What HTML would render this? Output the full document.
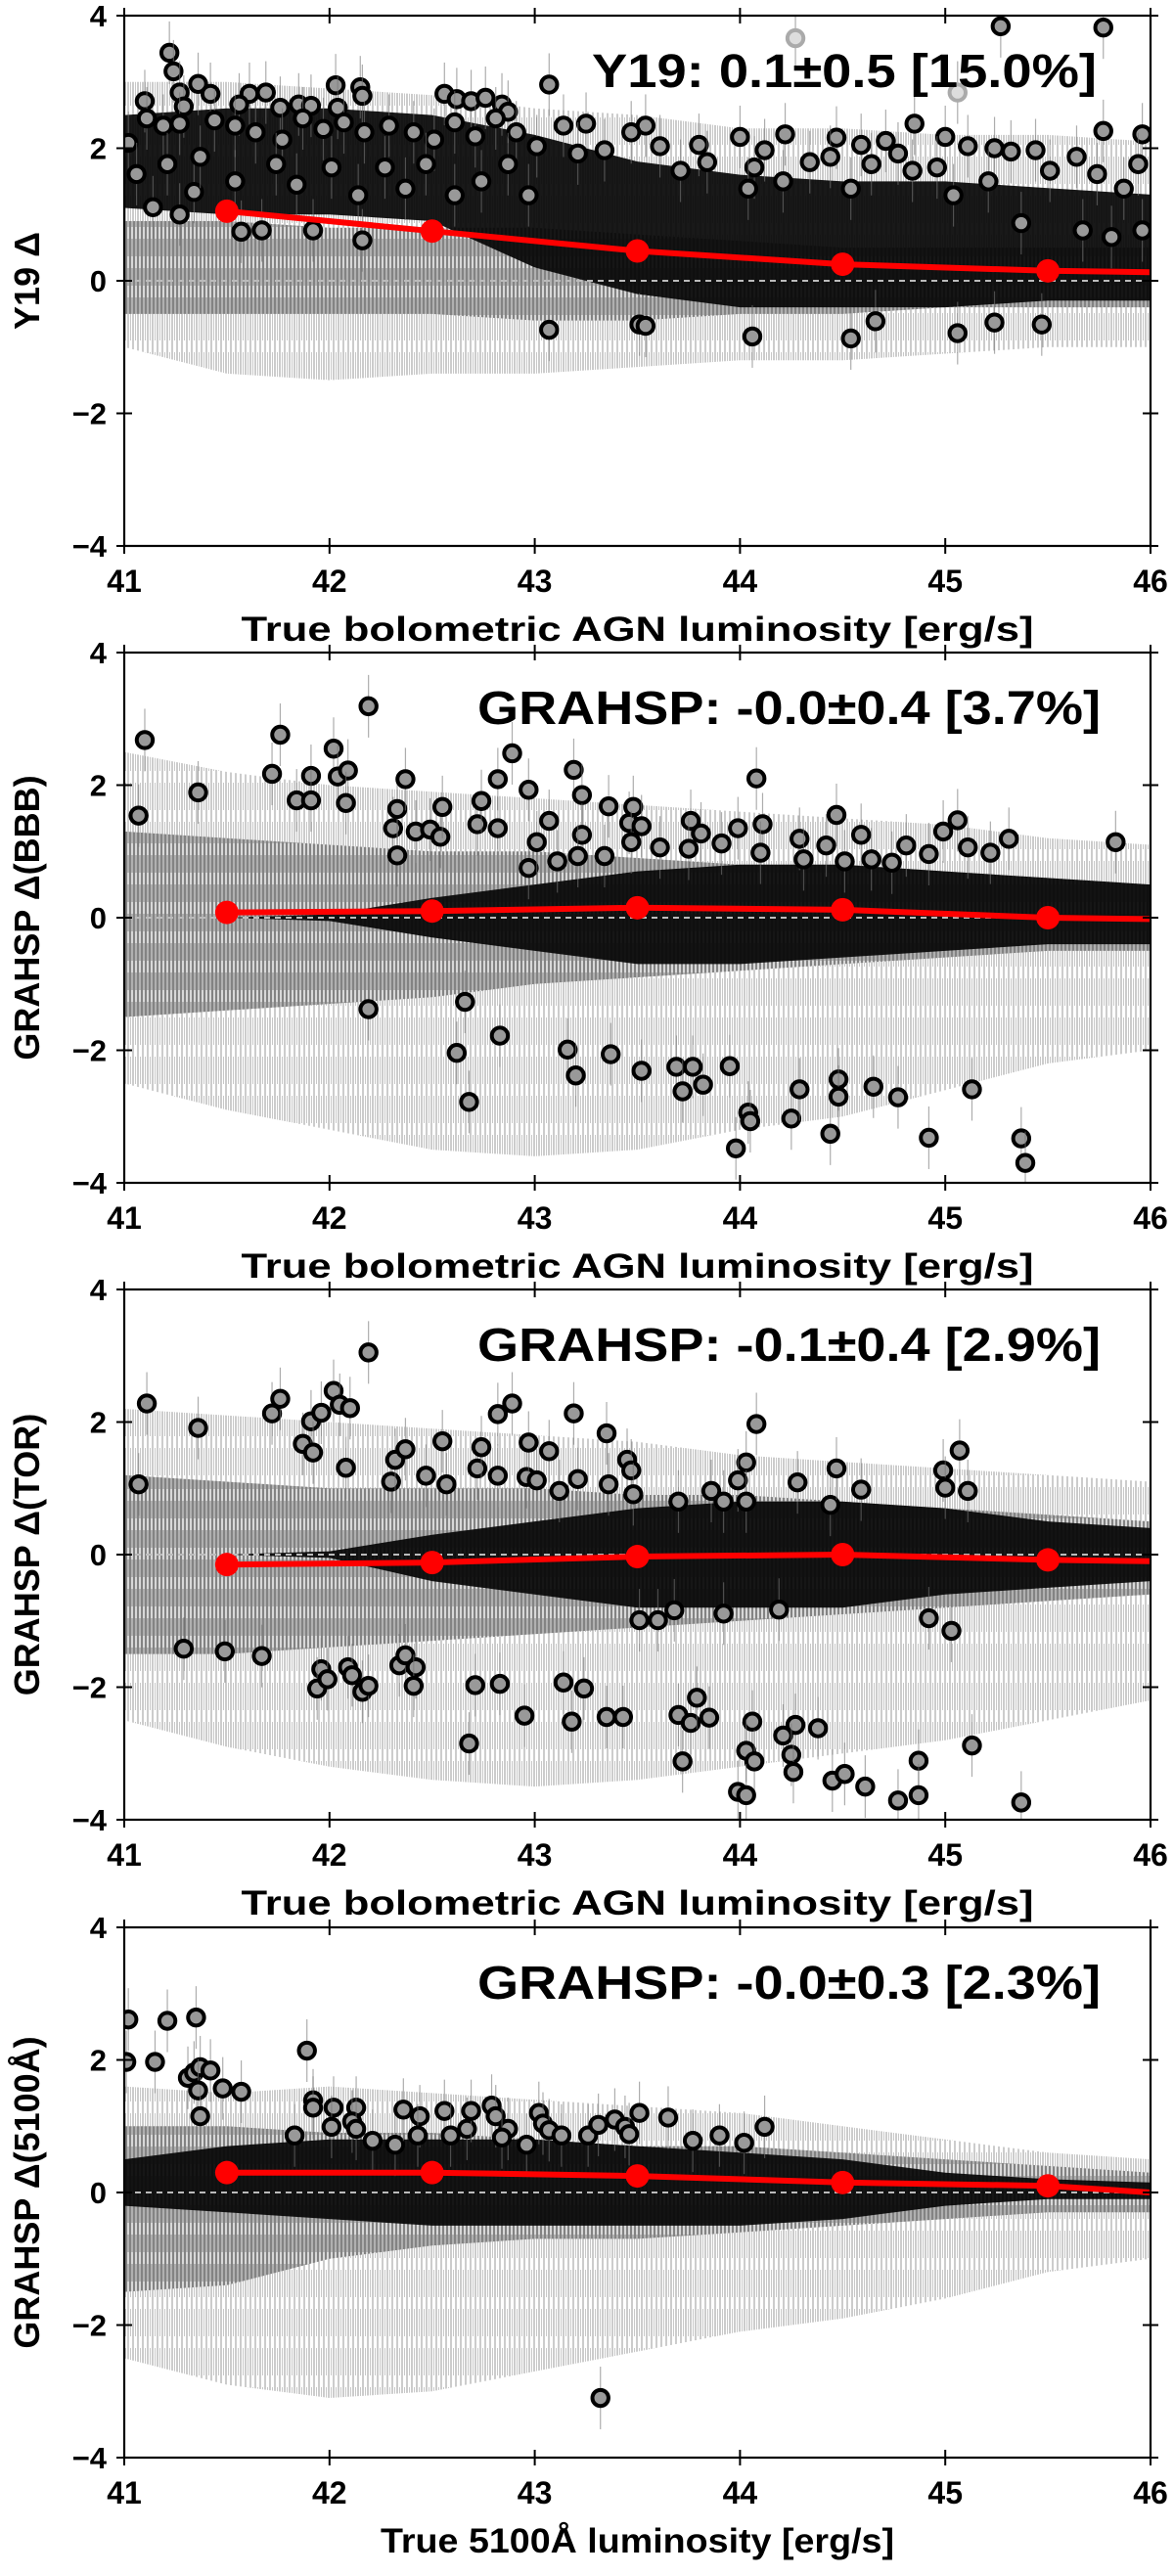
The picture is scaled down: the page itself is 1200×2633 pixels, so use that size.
<!DOCTYPE html>
<html><head><meta charset="utf-8"><style>
html,body{margin:0;padding:0;background:#fff}
svg text{font-family:"Liberation Sans",sans-serif;font-weight:bold;fill:#000}
</style></head><body>
<svg id="fig" xmlns="http://www.w3.org/2000/svg" width="1200" height="2628" viewBox="0 0 1200 2628">
<defs>
<pattern id="errPat" width="5" height="40" patternUnits="userSpaceOnUse"><line x1="1" y1="0" x2="1" y2="40" stroke="#9a9a9a" stroke-width="1"/><line x1="3.5" y1="0" x2="3.5" y2="28" stroke="#c8c8c8" stroke-width="1"/></pattern>
<pattern id="crossPat" width="4" height="30" patternUnits="userSpaceOnUse"><rect width="4" height="30" fill="#d8d8d8"/><line x1="1" y1="0" x2="1" y2="30" stroke="#555" stroke-width="1.3"/><line x1="3" y1="4" x2="3" y2="22" stroke="#888" stroke-width="1"/></pattern>
</defs>
</svg>
<script>
// ---- shared data ----
const xTicks = [41,42,43,44,45,46];
const yTicks = [4,2,0,-2,-4];
const yTickLabels = ["4","2","0","\u22122","\u22124"];
const bandX = [41,41.5,42,42.5,43,43.5,44,44.5,45,45.5,46];
const medX = [41.5,42.5,43.5,44.5,45.5,46];

// ---- panel 1 (Y19) ----
const p1Title = "Y19: 0.1\u00b10.5 [15.0%]";
const p1YLabel = "Y19 \u0394";
const p1XLabel = "True bolometric AGN luminosity [erg/s]";
const p1Med = [1.05,0.75,0.45,0.25,0.15,0.13];
const p1ErrLo = [-1.0,-1.4,-1.5,-1.4,-1.4,-1.3,-1.2,-1.2,-1.1,-1.0,-1.0];
const p1ErrHi = [3.0,3.0,2.9,2.8,2.6,2.5,2.3,2.3,2.2,2.2,2.1];
const p1CrossLo = [-0.5,-0.5,-0.5,-0.5,-0.6,-0.6,-0.5,-0.5,-0.4,-0.4,-0.4];
const p1CrossHi = [0.9,0.9,0.8,0.8,0.8,0.7,0.6,0.5,0.5,0.5,0.5];
const p1CoreLo = [1.1,1.0,1.0,0.9,0.2,-0.2,-0.4,-0.4,-0.4,-0.3,-0.3];
const p1CoreHi = [2.5,2.6,2.6,2.5,2.2,1.8,1.6,1.5,1.5,1.4,1.3];
const p1CircX = [41.22,41.24,41.36,41.1,41.27,41.42,41.29,41.61,41.69,41.56,42.03,42.15,42.16,41.85,41.76,41.91,42.04,42.56,42.62,42.69,42.76,42.84,42.87,43.07,41.02,41.11,41.19,41.27,41.44,41.54,41.64,41.77,41.87,41.97,42.07,42.17,42.29,42.41,42.51,42.61,42.71,42.81,42.91,43.01,41.06,41.14,41.21,41.27,41.34,41.37,41.54,41.57,41.67,41.74,41.84,41.92,42.01,42.14,42.16,42.27,42.37,42.47,42.61,42.74,42.87,42.97,43.14,43.25,43.54,43.47,43.21,43.34,43.61,43.71,43.8,43.84,44.0,44.22,44.12,44.07,44.47,44.59,44.71,44.85,45.0,44.77,44.34,44.44,44.64,44.84,44.96,45.11,45.24,45.32,45.44,45.64,45.77,45.96,45.94,45.51,45.74,45.87,45.81,45.96,45.67,45.37,45.21,45.04,44.54,44.21,44.04,45.27,45.77,43.07,43.51,43.54,44.06,44.54,44.66,45.06,45.24,45.47];
const p1CircY = [3.44,3.16,2.97,2.71,2.84,2.82,2.63,2.82,2.84,2.66,2.95,2.92,2.79,2.66,2.61,2.64,2.61,2.82,2.74,2.71,2.76,2.66,2.55,2.96,2.08,2.45,2.34,2.37,2.42,2.34,2.24,2.13,2.45,2.29,2.39,2.24,2.34,2.24,2.13,2.39,2.18,2.45,2.24,2.03,1.61,1.11,1.76,1.0,1.34,1.87,1.5,0.74,0.76,1.76,1.45,0.76,1.71,1.29,0.61,1.71,1.39,1.76,1.29,1.5,1.76,1.29,2.34,2.37,2.34,2.24,1.92,1.97,2.03,1.66,2.05,1.79,2.17,2.21,1.97,1.71,2.16,2.05,2.11,2.37,2.17,1.92,1.79,1.87,1.76,1.66,1.71,2.03,2.0,1.95,1.97,1.87,2.26,2.21,1.76,1.66,1.61,1.39,0.66,0.76,0.76,0.87,1.5,1.29,1.39,1.5,1.39,3.84,3.82,-0.74,-0.66,-0.68,-0.84,-0.87,-0.61,-0.79,-0.63,-0.66];
const p1FaintX = [44.27,45.06];
const p1FaintY = [3.66,2.84];

// ---- panel 2 (BBB) ----
const p2Title = "GRAHSP: -0.0\u00b10.4 [3.7%]";
const p2YLabel = "GRAHSP \u0394(BBB)";
const p2Med = [0.08,0.1,0.15,0.12,0.0,-0.02];
const p2ErrLo = [-2.5,-2.9,-3.2,-3.5,-3.6,-3.5,-3.2,-3.0,-2.6,-2.2,-2.0];
const p2ErrHi = [2.5,2.2,2.0,1.9,1.8,1.7,1.6,1.5,1.4,1.2,1.1];
const p2CrossLo = [-1.5,-1.4,-1.3,-1.2,-1.0,-0.9,-0.8,-0.7,-0.6,-0.5,-0.5];
const p2CrossHi = [1.3,1.2,1.1,1.0,1.0,0.9,0.8,0.8,0.7,0.6,0.5];
const p2CoreLo = [0,0,-0.05,-0.3,-0.5,-0.7,-0.7,-0.6,-0.5,-0.4,-0.4];
const p2CoreHi = [0,0,0.05,0.3,0.5,0.7,0.8,0.8,0.7,0.6,0.5];
const p2CircX = [41.07,41.1,41.36,41.72,41.76,41.84,41.91,41.91,42.02,42.04,42.09,42.08,42.19,42.31,42.33,42.33,42.37,42.42,42.49,42.54,42.55,42.72,42.74,42.82,42.82,42.89,42.97,42.97,43.01,43.07,43.11,43.19,43.23,43.23,43.21,43.34,43.36,43.46,43.48,43.52,43.47,43.61,43.76,43.81,43.75,43.91,43.99,44.11,44.08,44.1,44.29,44.31,44.42,44.47,44.51,44.59,44.64,44.74,44.81,44.92,44.99,45.06,45.11,45.22,45.31,45.83,42.19,42.66,42.83,42.62,42.68,43.16,43.2,43.37,43.52,43.69,43.77,43.72,43.82,43.95,44.04,44.05,43.98,44.25,44.29,44.44,44.48,44.48,44.65,44.77,44.92,45.13,45.37,45.39];
const p2CircY = [1.54,2.68,1.89,2.17,2.76,1.77,2.14,1.77,2.55,2.13,2.22,1.73,3.19,1.35,1.64,0.94,2.09,1.3,1.33,1.22,1.67,1.41,1.76,1.35,2.09,2.48,1.93,0.75,1.14,1.46,0.85,2.23,1.85,1.25,0.93,0.93,1.68,1.43,1.67,1.38,1.14,1.06,1.46,1.27,1.04,1.12,1.35,1.41,2.1,0.98,1.19,0.88,1.09,1.55,0.85,1.25,0.88,0.83,1.09,0.96,1.3,1.47,1.06,0.98,1.19,1.14,-1.38,-1.27,-1.78,-2.04,-2.78,-1.99,-2.38,-2.06,-2.31,-2.25,-2.25,-2.62,-2.52,-2.24,-2.94,-3.07,-3.48,-3.03,-2.59,-3.26,-2.44,-2.7,-2.55,-2.71,-3.32,-2.59,-3.33,-3.7];

// ---- panel 3 (TOR) ----
const p3Title = "GRAHSP: -0.1\u00b10.4 [2.9%]";
const p3YLabel = "GRAHSP \u0394(TOR)";
const p3Med = [-0.15,-0.12,-0.03,0.0,-0.08,-0.1];
const p3ErrLo = [-2.5,-2.9,-3.2,-3.4,-3.5,-3.4,-3.2,-3.0,-2.8,-2.5,-2.2];
const p3ErrHi = [2.2,2.1,2.0,1.9,1.8,1.7,1.5,1.4,1.3,1.2,1.1];
const p3CrossLo = [-1.5,-1.5,-1.4,-1.3,-1.2,-1.1,-1.0,-0.9,-0.8,-0.7,-0.6];
const p3CrossHi = [1.2,1.1,1.0,1.0,1.0,0.9,0.9,0.8,0.7,0.6,0.5];
const p3CoreLo = [0,0,-0.05,-0.4,-0.6,-0.8,-0.8,-0.8,-0.6,-0.5,-0.4];
const p3CoreHi = [0,0,0.05,0.3,0.5,0.7,0.8,0.8,0.7,0.5,0.4];
const p3CircX = [41.07,41.11,41.36,41.72,41.76,41.87,41.91,41.92,41.96,42.02,42.05,42.1,42.08,42.19,42.3,42.32,42.37,42.47,42.55,42.57,42.72,42.74,42.82,42.82,42.89,42.96,43.01,42.97,43.07,43.12,43.19,43.21,43.35,43.36,43.45,43.47,43.48,43.7,43.86,43.92,44.03,43.99,44.03,44.08,44.28,44.44,44.47,44.59,44.99,45.0,45.07,45.11,43.51,43.6,43.68,43.92,44.19,44.92,45.03,41.29,41.49,41.67,41.96,41.94,41.99,42.09,42.11,42.16,42.19,42.34,42.37,42.42,42.41,42.71,42.83,42.95,42.68,43.14,43.24,43.18,43.35,43.43,43.7,43.76,43.85,43.79,43.72,44.06,44.21,44.27,44.38,44.03,44.07,44.25,44.26,43.99,44.03,44.45,44.51,44.61,44.77,44.87,44.87,45.13,45.37];
const p3CircY = [1.06,2.28,1.91,2.13,2.35,1.67,2.01,1.54,2.14,2.47,2.26,2.21,1.31,3.05,1.1,1.43,1.59,1.19,1.71,1.06,1.3,1.62,1.19,2.12,2.28,1.17,1.12,1.69,1.56,0.96,2.13,1.14,1.83,1.06,1.43,1.27,0.91,0.8,0.96,0.8,1.39,1.12,0.8,1.97,1.09,0.75,1.3,0.98,1.27,1.01,1.57,0.96,-0.99,-0.99,-0.84,-0.89,-0.83,-0.96,-1.15,-1.42,-1.46,-1.53,-1.73,-2.02,-1.88,-1.7,-1.82,-2.07,-1.98,-1.67,-1.52,-1.7,-1.98,-1.97,-1.95,-2.43,-2.85,-1.93,-2.02,-2.52,-2.45,-2.45,-2.42,-2.54,-2.46,-2.16,-3.12,-2.52,-2.73,-2.57,-2.62,-2.96,-3.12,-3.02,-3.28,-3.58,-3.63,-3.41,-3.31,-3.5,-3.71,-3.11,-3.63,-2.88,-3.74];

// ---- panel 4 (5100A) ----
const p4Title = "GRAHSP: -0.0\u00b10.3 [2.3%]";
const p4YLabel = "GRAHSP \u0394(5100\u00c5)";
const p4XLabel = "True 5100\u00c5 luminosity [erg/s]";
const p4Med = [0.3,0.3,0.25,0.15,0.1,0.0];
const p4ErrLo = [-2.5,-2.9,-3.1,-3.0,-2.7,-2.4,-2.1,-1.9,-1.6,-1.2,-1.0];
const p4ErrHi = [1.6,1.5,1.6,1.5,1.4,1.3,1.2,1.0,0.8,0.6,0.5];
const p4CrossLo = [-1.5,-1.4,-1.0,-0.8,-0.7,-0.7,-0.6,-0.5,-0.4,-0.3,-0.3];
const p4CrossHi = [1.0,1.0,0.9,0.9,0.8,0.7,0.7,0.6,0.5,0.4,0.3];
const p4CoreLo = [-0.2,-0.3,-0.4,-0.5,-0.5,-0.5,-0.5,-0.4,-0.2,-0.1,-0.1];
const p4CoreHi = [0.5,0.7,0.8,0.8,0.8,0.7,0.6,0.5,0.3,0.2,0.15];
const p4CircX = [41.02,41.01,41.15,41.21,41.35,41.31,41.34,41.37,41.42,41.36,41.37,41.48,41.57,41.89,41.83,41.92,41.92,42.02,42.01,42.13,42.11,42.13,42.21,42.32,42.36,42.44,42.43,42.56,42.59,42.67,42.69,42.79,42.81,42.87,42.96,42.84,43.02,43.04,43.07,43.13,43.26,43.31,43.39,43.44,43.51,43.46,43.65,43.77,43.9,44.02,44.12,43.32];
const p4CircY = [2.61,1.97,1.97,2.59,2.64,1.73,1.81,1.89,1.84,1.54,1.15,1.57,1.52,2.14,0.86,1.39,1.28,1.28,0.99,1.28,1.07,0.96,0.78,0.72,1.25,1.15,0.86,1.23,0.86,0.96,1.23,1.31,1.15,0.96,0.72,0.83,1.2,1.04,0.94,0.86,0.86,1.02,1.1,0.99,1.2,0.88,1.13,0.78,0.86,0.75,0.99,-3.1];

// ---- drawing ----
const NS = "http://www.w3.org/2000/svg";
const svg = document.getElementById('fig');
const L = 127, R = 1176, PH = 542;
function xs(v){ return L + (v-41)/(46-41)*(R-L); }
function mk(tag, attrs, parent){
  const e = document.createElementNS(NS, tag);
  for (const k in attrs) e.setAttribute(k, attrs[k]);
  parent.appendChild(e); return e;
}
function band(g, lo, hi, ys, fill, op, name){
  let d = "";
  for (let i=0;i<bandX.length;i++) d += (i?"L":"M")+xs(bandX[i]).toFixed(1)+","+ys(hi[i]).toFixed(1);
  for (let i=bandX.length-1;i>=0;i--) d += "L"+xs(bandX[i]).toFixed(1)+","+ys(lo[i]).toFixed(1);
  const p = mk('path',{d:d+"Z",fill:fill,'fill-opacity':op},g);
  
  
}
function panel(top, cfg){
  const B = top + PH;
  const ys = v => top + (4-v)/8*PH;
  const g = mk('g',{},svg);
  
  
  const cid = 'clip'+top;
  const cp = mk('clipPath',{id:cid},g);
  mk('rect',{x:L,y:top,width:R-L,height:PH},cp);
  const pg = mk('g',{'clip-path':'url(#'+cid+')'},g);
  band(pg, cfg.errLo, cfg.errHi, ys, 'url(#errPat)', 1, 'errorbar-envelope');
  band(pg, cfg.crossLo, cfg.crossHi, ys, 'url(#crossPat)', 1, 'cross-points-band');
  band(pg, cfg.coreLo, cfg.coreHi, ys, '#050505', 0.92, 'dense-core-band');
  const z = mk('line',{x1:L,x2:R,y1:ys(0),y2:ys(0),stroke:'#bbb','stroke-width':2,'stroke-dasharray':'6,5'},pg);
  
  
  const drawCirc = (X,Y,stroke,fill,nm) => {
    for (let i=0;i<X.length;i++){
      const cx = xs(X[i]), cy = ys(Y[i]);
      const eb = mk('line',{x1:cx,x2:cx,y1:cy-32,y2:cy+32,stroke:'#777','stroke-width':1.2,'stroke-opacity':0.6},pg);
      
      
      const c = mk('circle',{cx:cx,cy:cy,r:8.2,fill:fill,stroke:stroke,'stroke-width':4},pg);
      
      
    }
  };
  drawCirc(cfg.circX, cfg.circY, '#000', '#999', 'outlier-point');
  if (cfg.faintX) drawCirc(cfg.faintX, cfg.faintY, '#aaa', '#ddd', 'faint-outlier-point');
  let d = "";
  for (let i=0;i<medX.length;i++) d += (i?"L":"M")+xs(medX[i]).toFixed(1)+","+ys(cfg.med[i]).toFixed(1);
  const ml = mk('path',{d:d,fill:'none',stroke:'#f00','stroke-width':6},pg);
  
  
  for (let i=0;i<medX.length-1;i++){
    const m = mk('circle',{cx:xs(medX[i]),cy:ys(cfg.med[i]),r:12,fill:'#f00'},pg);
    
    
  }
  const fr = mk('rect',{x:L,y:top,width:R-L,height:PH,fill:'none',stroke:'#000','stroke-width':2.2},g);
  
  
  xTicks.forEach(t=>{
    const x = xs(t);
    const a = mk('line',{x1:x,x2:x,y1:B-8,y2:B+8,stroke:'#000','stroke-width':2},g);
    
    
    const b = mk('line',{x1:x,x2:x,y1:top-8,y2:top+8,stroke:'#000','stroke-width':2},g);
    
    
    const tx = mk('text',{x:x,y:B+47,'text-anchor':'middle','font-size':32},g);
    tx.textContent = String(t);
    
    
  });
  yTicks.forEach((t,i)=>{
    const y = ys(t);
    const a = mk('line',{x1:L-8,x2:L+8,y1:y,y2:y,stroke:'#000','stroke-width':2},g);
    
    
    const b = mk('line',{x1:R-8,x2:R+8,y1:y,y2:y,stroke:'#000','stroke-width':2},g);
    
    
    const tx = mk('text',{x:L-18,y:y+11,'text-anchor':'end','font-size':31},g);
    tx.textContent = yTickLabels[i];
    
    
  });
  const st = mk('text',{x:cfg.titleX,y:top+73,'font-size':48,textLength:cfg.titleW,lengthAdjust:'spacingAndGlyphs'},g);
  st.textContent = cfg.title;
  
  
  const yl = mk('text',{x:0,y:0,'font-size':36,'text-anchor':'middle',transform:'translate(40,'+(top+PH/2)+') rotate(-90)'},g);
  yl.textContent = cfg.ylabel;
  
  
  const xl = mk('text',{x:(L+R)/2,y:B+97,'font-size':35,'text-anchor':'middle',textLength:cfg.xlabelW,lengthAdjust:'spacingAndGlyphs'},g);
  xl.textContent = cfg.xlabel;
  
  
}
panel(16,{name:'panel-y19',title:p1Title,titleX:605,titleW:516,ylabel:p1YLabel,xlabel:p1XLabel,xlabelW:810,med:p1Med,errLo:p1ErrLo,errHi:p1ErrHi,crossLo:p1CrossLo,crossHi:p1CrossHi,coreLo:p1CoreLo,coreHi:p1CoreHi,circX:p1CircX,circY:p1CircY,faintX:p1FaintX,faintY:p1FaintY});
panel(667,{name:'panel-bbb',title:p2Title,titleX:488,titleW:637,ylabel:p2YLabel,xlabel:p1XLabel,xlabelW:810,med:p2Med,errLo:p2ErrLo,errHi:p2ErrHi,crossLo:p2CrossLo,crossHi:p2CrossHi,coreLo:p2CoreLo,coreHi:p2CoreHi,circX:p2CircX,circY:p2CircY});
panel(1318,{name:'panel-tor',title:p3Title,titleX:488,titleW:637,ylabel:p3YLabel,xlabel:p1XLabel,xlabelW:810,med:p3Med,errLo:p3ErrLo,errHi:p3ErrHi,crossLo:p3CrossLo,crossHi:p3CrossHi,coreLo:p3CoreLo,coreHi:p3CoreHi,circX:p3CircX,circY:p3CircY});
panel(1970,{name:'panel-5100',title:p4Title,titleX:488,titleW:637,ylabel:p4YLabel,xlabel:p4XLabel,xlabelW:525,med:p4Med,errLo:p4ErrLo,errHi:p4ErrHi,crossLo:p4CrossLo,crossHi:p4CrossHi,coreLo:p4CoreLo,coreHi:p4CoreHi,circX:p4CircX,circY:p4CircY});
</script>
</body></html>
